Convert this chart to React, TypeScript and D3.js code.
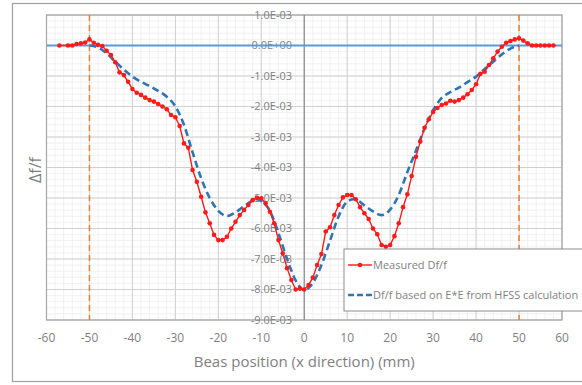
import React from "react";
import * as d3 from "d3";

const measuredX = [-57, -55, -54, -53, -52, -51, -50, -49, -48, -47, -46, -45, -44, -43, -42, -41, -40, -39, -38, -37, -36, -35, -34, -33, -32, -31, -30, -29, -28, -27, -26, -25, -24, -23, -22, -21, -20, -19, -18, -17, -16, -15, -14, -13, -12, -11, -10, -9, -8, -7, -6, -5, -4, -3, -2, -1, 0, 1, 2, 3, 4, 5, 6, 7, 8, 9, 10, 11, 12, 13, 14, 15, 16, 17, 18, 19, 20, 21, 22, 23, 24, 25, 26, 27, 28, 29, 30, 31, 32, 33, 34, 35, 36, 37, 38, 39, 40, 41, 42, 43, 44, 45, 46, 47, 48, 49, 50, 51, 52, 53, 54, 55, 56, 57, 58];
const measuredY = [0, 0, 0, 0.05, 0.07, 0.1, 0.2, 0.09, 0.02, -0.02, -0.17, -0.31, -0.55, -0.88, -0.97, -1.19, -1.43, -1.55, -1.62, -1.71, -1.79, -1.84, -1.92, -2.0, -2.09, -2.28, -2.35, -2.64, -3.21, -3.35, -4.08, -4.47, -4.96, -5.47, -5.83, -6.21, -6.38, -6.38, -6.27, -6.0, -5.78, -5.56, -5.39, -5.23, -5.07, -4.99, -5.01, -5.17, -5.45, -5.83, -6.38, -6.81, -7.3, -7.69, -8.0, -7.97, -8.0, -7.85, -7.61, -7.2, -6.84, -6.1, -5.96, -5.56, -5.23, -4.98, -4.9, -4.9, -5.04, -5.3, -5.5, -5.69, -6.0, -6.19, -6.54, -6.6, -6.54, -6.25, -5.83, -5.3, -4.88, -4.28, -3.65, -3.15, -2.7, -2.42, -2.18, -2.05, -1.95, -1.9, -1.81, -1.84, -1.79, -1.71, -1.6, -1.46, -1.27, -0.93, -0.86, -0.64, -0.42, -0.2, -0.04, 0.09, 0.15, 0.2, 0.24, 0.16, 0.07, 0, 0, 0, 0, 0, 0];

const calcX = [-50, -48, -46, -44, -42, -40, -38, -36, -34, -32, -30, -28, -26, -24, -22, -20, -18, -16, -14, -12, -11, -10, -8, -6, -4, -2, 0, 2, 4, 6, 8, 10, 11.5, 12, 14, 16, 18, 20, 22, 24, 26, 28, 30, 32, 34, 36, 38, 40, 42, 44, 46, 48, 50];
const calcY = [0, -0.06, -0.26, -0.53, -0.79, -1.02, -1.19, -1.33, -1.49, -1.68, -2.0, -2.6, -3.5, -4.35, -5.0, -5.42, -5.59, -5.47, -5.27, -5.08, -5.04, -5.1, -5.42, -6.15, -7.0, -7.7, -8.02, -7.78, -7.2, -6.4, -5.6, -5.12, -5.04, -5.05, -5.24, -5.44, -5.56, -5.38, -4.9, -4.15, -3.45, -2.72, -2.12, -1.72, -1.53, -1.38, -1.2, -1.02, -0.77, -0.53, -0.29, -0.1, 0];

const xTicks = [-60, -50, -40, -30, -20, -10, 0, 10, 20, 30, 40, 50, 60];
const yTicks = [1, 0, -1, -2, -3, -4, -5, -6, -7, -8, -9];
const yTickLabels = ["1.0E-03", "0.0E+00", "-1.0E-03", "-2.0E-03", "-3.0E-03", "-4.0E-03", "-5.0E-03", "-6.0E-03", "-7.0E-03", "-8.0E-03", "-9.0E-03"];
const markerLines = [-50, 50];
const legendLabels = ["Measured Df/f", "Df/f based on E*E from HFSS calculation"];
const xTitle = "Beas position (x direction) (mm)";
const yTitle = "\u0394f/f";

const FONT = "'Open Sans', 'Noto Sans', sans-serif";

export default function App() {
  const left = 46.5, right = 562, top = 15, bottom = 320;
  const x = d3.scaleLinear().domain([-60, 60]).range([left, right]);
  const y = d3.scaleLinear().domain([-9, 1]).range([bottom, top]);

  const minorX = d3.range(-60, 60.01, 2);
  const minorY = d3.range(-9, 1.01, 0.2);

  const measured = measuredX.map((v, i) => [v, measuredY[i]] as [number, number]);
  const calc = calcX.map((v, i) => [v, calcY[i]] as [number, number]);
  const lineStraight = d3.line<[number, number]>().x(d => x(d[0])).y(d => y(d[1]));
  const lineSmooth = d3.line<[number, number]>().x(d => x(d[0])).y(d => y(d[1])).curve(d3.curveMonotoneX);

  return (
    <svg width={582} height={385} style={{ position: "absolute", left: 0, top: 0, background: "#fff" }} fontFamily={FONT}>
      <rect x={12.5} y={3.5} width={620} height={378} fill="#fff" stroke="#a0a0a0" strokeWidth={1.2} />
      {minorX.map((v, i) => (
        <line key={"mx" + i} x1={x(v)} x2={x(v)} y1={top} y2={bottom} stroke="#eeeeee" strokeWidth={0.8} />
      ))}
      {minorY.map((v, i) => (
        <line key={"my" + i} x1={left} x2={right} y1={y(v)} y2={y(v)} stroke="#eeeeee" strokeWidth={0.8} />
      ))}
      {xTicks.map((v) => (
        <line key={"gx" + v} x1={x(v)} x2={x(v)} y1={top} y2={bottom} stroke="#d0d0d0" strokeWidth={1} />
      ))}
      {yTicks.map((v) => (
        <line key={"gy" + v} x1={left} x2={right} y1={y(v)} y2={y(v)} stroke="#d0d0d0" strokeWidth={1} />
      ))}
      <rect x={left} y={top} width={right - left} height={bottom - top} fill="none" stroke="#a6a6a6" strokeWidth={1.2} />
      <line x1={x(0)} x2={x(0)} y1={top} y2={bottom} stroke="#8c8c8c" strokeWidth={1.2} />
      {yTicks.map((v, i) => (
        <text key={"yl" + v} x={292} y={y(v)} dy="0.35em" textAnchor="end" fontSize={11} fill="#7f7f7f">
          {yTickLabels[i]}
        </text>
      ))}
      <line x1={left} x2={right} y1={y(0)} y2={y(0)} stroke="#5b9bd5" strokeWidth={1.8} />
      {markerLines.map((v) => (
        <line key={"ml" + v} x1={x(v)} x2={x(v)} y1={top} y2={bottom} stroke="#ed7d31" strokeWidth={1.5} strokeDasharray="6,4" />
      ))}
      <path d={lineSmooth(calc) || ""} fill="none" stroke="#2e75b6" strokeWidth={2.6} strokeDasharray="7,4" />
      <path d={lineStraight(measured) || ""} fill="none" stroke="#ff1a1a" strokeWidth={1.4} />
      {measured.map((d, i) => (
        <circle key={"pt" + i} cx={x(d[0])} cy={y(d[1])} r={2.3} fill="#ff1a1a" />
      ))}
      {xTicks.map((v) => (
        <text key={"xl" + v} x={x(v)} y={342} textAnchor="middle" fontSize={12} fill="#7f7f7f">
          {v}
        </text>
      ))}
      <text x={x(0)} y={367} textAnchor="middle" fontSize={15} fill="#7f7f7f">{xTitle}</text>
      <text transform={`translate(41,170) rotate(-90)`} textAnchor="middle" fontSize={16} fill="#7f7f7f">{yTitle}</text>
      <rect x={344} y={249} width={260} height={62} fill="#fff" stroke="#8c8c8c" strokeWidth={1} />
      <line x1={348} x2={372} y1={265} y2={265} stroke="#ff1a1a" strokeWidth={1.4} />
      <circle cx={360} cy={265} r={2.3} fill="#ff1a1a" />
      <text x={373} y={265} dy="0.35em" fontSize={11} fill="#7f7f7f">{legendLabels[0]}</text>
      <line x1={348} x2={372} y1={295} y2={295} stroke="#2e75b6" strokeWidth={2.6} strokeDasharray="6,3" />
      <text x={373} y={295} dy="0.35em" fontSize={11} fill="#7f7f7f">{legendLabels[1]}</text>
    </svg>
  );
}
